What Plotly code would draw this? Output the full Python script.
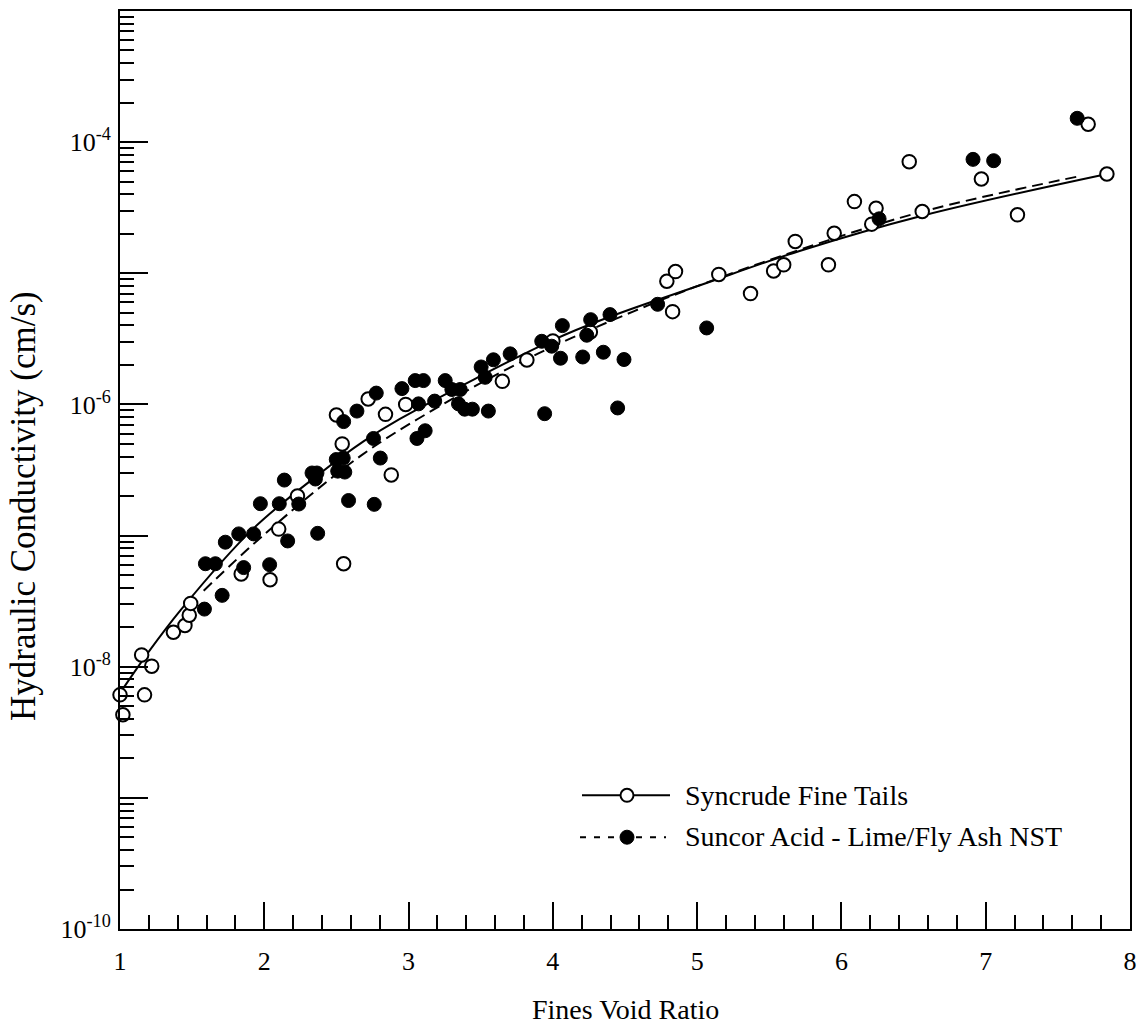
import plotly.graph_objects as go

# ---------------- data ----------------
syn_x = [1.00, 1.17, 1.02, 1.15, 1.22, 1.37, 1.45, 1.48, 1.49, 1.84, 2.04, 2.10, 2.23, 2.55,
         2.54, 2.50, 2.72, 2.84, 2.88, 2.98, 3.65, 3.82, 4.00, 4.26, 4.79, 4.85, 4.83, 5.15,
         5.37, 5.53, 5.60, 5.68, 5.91, 5.95, 6.09, 6.21, 6.24, 6.47, 6.56, 6.97, 7.22, 7.71, 7.84]
syn_k = [6.1e-9, 6.1e-9, 4.3e-9, 1.23e-8, 1.01e-8, 1.83e-8, 2.06e-8, 2.47e-8, 3.04e-8, 5.1e-8,
         4.6e-8, 1.12e-7, 2.0e-7, 6.1e-8, 5.0e-7, 8.3e-7, 1.10e-6, 8.4e-7, 2.9e-7, 1.0e-6,
         1.50e-6, 2.18e-6, 3.05e-6, 3.57e-6, 8.7e-6, 1.03e-5, 5.1e-6, 9.8e-6, 7.0e-6, 1.04e-5,
         1.16e-5, 1.75e-5, 1.16e-5, 2.02e-5, 3.52e-5, 2.37e-5, 3.13e-5, 7.1e-5, 2.96e-5, 5.24e-5,
         2.79e-5, 1.37e-4, 5.72e-5]

sun_x = [1.585, 1.592, 1.661, 1.708, 1.730, 1.823, 1.857, 1.926, 1.973, 2.037, 2.104, 2.139,
         2.162, 2.239, 2.331, 2.365, 2.354, 2.370, 2.499, 2.547, 2.509, 2.558, 2.584, 2.550,
         2.642, 2.762, 2.757, 2.776, 2.804, 2.954, 3.046, 3.103, 3.069, 3.115, 3.058, 3.181,
         3.254, 3.300, 3.358, 3.346, 3.389, 3.442, 3.553, 3.503, 3.531, 3.588, 3.704, 3.923,
         3.992, 4.066, 4.053, 3.943, 4.207, 4.262, 4.235, 4.350, 4.396, 4.493, 4.449, 4.726,
         5.066, 6.261, 6.912, 7.055, 7.634]
sun_k = [2.75e-8, 6.1e-8, 6.1e-8, 3.5e-8, 8.9e-8, 1.03e-7, 5.7e-8, 1.03e-7, 1.75e-7, 6.0e-8,
         1.75e-7, 2.65e-7, 9.1e-8, 1.74e-7, 3.0e-7, 3.0e-7, 2.7e-7, 1.04e-7, 3.8e-7, 3.9e-7,
         3.1e-7, 3.05e-7, 1.85e-7, 7.4e-7, 8.9e-7, 1.73e-7, 5.5e-7, 1.22e-6, 3.9e-7, 1.32e-6,
         1.52e-6, 1.52e-6, 1.01e-6, 6.3e-7, 5.5e-7, 1.06e-6, 1.52e-6, 1.30e-6, 1.30e-6, 1.01e-6,
         9.2e-7, 9.2e-7, 8.9e-7, 1.93e-6, 1.61e-6, 2.19e-6, 2.43e-6, 3.03e-6, 2.78e-6, 3.99e-6,
         2.25e-6, 8.5e-7, 2.30e-6, 4.43e-6, 3.37e-6, 2.50e-6, 4.84e-6, 2.20e-6, 9.4e-7, 5.8e-6,
         3.83e-6, 2.60e-5, 7.39e-5, 7.22e-5, 1.52e-4]

# fitted curves
syn_fit_x = [1.00, 1.19, 1.42, 1.92, 2.39, 2.69, 2.94, 4.00, 4.40, 5.02, 5.71, 6.56, 7.80]
syn_fit_k = [6.3e-9, 1.26e-8, 2.7e-8, 1.12e-7, 3.0e-7, 5.25e-7, 7.76e-7, 3.09e-6, 4.68e-6,
             8.1e-6, 1.48e-5, 2.75e-5, 5.6e-5]
sun_fit_x = [1.58, 2.00, 2.67, 3.27, 3.90, 4.56, 5.02, 5.71, 6.56, 7.65]
sun_fit_k = [3.8e-8, 1.02e-7, 4.07e-7, 1.05e-6, 2.45e-6, 5.13e-6, 8.13e-6, 1.51e-5, 2.95e-5, 5.5e-5]

x_ticks = [1, 2, 3, 4, 5, 6, 7, 8]
y_labeled = [-10, -8, -6, -4]      # decades with a printed label
y_unlabeled = [-9, -7, -5]         # decades with a long tick only

series_names = ["Syncrude Fine Tails", "Suncor Acid - Lime/Fly Ash NST"]
x_title = "Fines Void Ratio"
y_title = "Hydraulic Conductivity (cm/s)"

assert len(syn_x) == len(syn_k) and len(sun_x) == len(sun_k)

FONT = "Liberation Serif"
W, H = 1148, 1029
ML, MR, MT, MB = 120, 18, 9, 100

fig = go.Figure()

# fit curves
fig.add_trace(go.Scatter(x=syn_fit_x, y=syn_fit_k, mode="lines", line_shape="spline",
                         line=dict(color="black", width=2), showlegend=False, hoverinfo="skip"))
fig.add_trace(go.Scatter(x=sun_fit_x, y=sun_fit_k, mode="lines", line_shape="spline",
                         line=dict(color="black", width=2, dash="11px,6px"),
                         showlegend=False, hoverinfo="skip"))
# data points
fig.add_trace(go.Scatter(x=syn_x, y=syn_k, mode="markers", name=series_names[0],
                         marker=dict(symbol="circle", size=13.5, color="white",
                                     line=dict(color="black", width=2)),
                         cliponaxis=False, showlegend=False))
fig.add_trace(go.Scatter(x=sun_x, y=sun_k, mode="markers", name=series_names[1],
                         marker=dict(symbol="circle", size=14, color="black",
                                     line=dict(color="black", width=1)),
                         cliponaxis=False, showlegend=False))
# empty trace that carries the overlay axis used for the unlabeled decade ticks
fig.add_trace(go.Scatter(x=[], y=[], yaxis="y2", showlegend=False, hoverinfo="skip"))

# ---------------- axes ----------------
minor_y = [m * 10.0 ** e for e in range(-10, -3) for m in range(2, 10)]
fig.update_layout(
    xaxis=dict(range=[1, 8], tickmode="array", tickvals=x_ticks,
               ticktext=[str(v) for v in x_ticks],
               ticks="inside", ticklen=27, tickwidth=2, tickcolor="black",
               minor=dict(ticks="inside", ticklen=14, tickwidth=1.5, tickcolor="black",
                          tickmode="linear", tick0=1, dtick=0.2, showgrid=False),
               showline=True, linewidth=2, linecolor="black", mirror=True,
               showgrid=False, zeroline=False, ticklabelstandoff=8,
               tickfont=dict(family=FONT, size=26, color="black")),
    yaxis=dict(type="log", range=[-10, -3.0], tickmode="array",
               tickvals=[10.0 ** e for e in y_labeled],
               ticktext=["10<sup>%d</sup>" % e for e in y_labeled],
               ticks="inside", ticklen=28, tickwidth=2, tickcolor="black",
               minor=dict(ticks="inside", ticklen=14, tickwidth=1.5, tickcolor="black",
                          tickmode="array", tickvals=minor_y, showgrid=False),
               showline=True, linewidth=2, linecolor="black", mirror=True,
               showgrid=False, zeroline=False, ticklabelstandoff=2,
               tickfont=dict(family=FONT, size=26, color="black")),
    yaxis2=dict(type="log", range=[-10, -3.0], overlaying="y", side="left",
                tickmode="array", tickvals=[10.0 ** e for e in y_unlabeled],
                ticks="inside", ticklen=28, tickwidth=2, tickcolor="black",
                showticklabels=False, showline=False, showgrid=False, zeroline=False),
)

pw = W - ML - MR
ph = H - MT - MB

def px_x(p):
    return (p - ML) / pw

def px_y(p):
    return (H - MB - p) / ph

annotations = [
    dict(text=x_title, xref="paper", yref="paper", x=0.5, y=px_y(1010),
         xanchor="center", yanchor="middle", showarrow=False,
         font=dict(family=FONT, size=28, color="black")),
    dict(text=y_title, xref="paper", yref="paper", x=px_x(24), y=px_y(505),
         xanchor="center", yanchor="middle", textangle=-90, showarrow=False,
         font=dict(family=FONT, size=35, color="black")),
    dict(text=series_names[0], xref="paper", yref="paper", x=px_x(683), y=px_y(795),
         xanchor="left", yanchor="middle", showarrow=False,
         font=dict(family=FONT, size=28, color="black")),
    dict(text=series_names[1], xref="paper", yref="paper", x=px_x(683), y=px_y(836),
         xanchor="left", yanchor="middle", showarrow=False,
         font=dict(family=FONT, size=28, color="black")),
]

shapes = [
    dict(type="line", xref="paper", yref="paper", x0=px_x(582), x1=px_x(670),
         y0=px_y(795), y1=px_y(795), line=dict(color="black", width=2)),
    dict(type="circle", xref="paper", yref="paper", xsizemode="pixel", ysizemode="pixel",
         xanchor=px_x(627), yanchor=px_y(795), x0=-6.5, x1=6.5, y0=-6.5, y1=6.5,
         fillcolor="white", line=dict(color="black", width=2)),
    dict(type="line", xref="paper", yref="paper", x0=px_x(580), x1=px_x(666),
         y0=px_y(837), y1=px_y(837), line=dict(color="black", width=2, dash="6px,8px")),
    dict(type="circle", xref="paper", yref="paper", xsizemode="pixel", ysizemode="pixel",
         xanchor=px_x(627), yanchor=px_y(837), x0=-7, x1=7, y0=-7, y1=7,
         fillcolor="black", line=dict(color="black", width=1)),
]

fig.update_layout(width=W, height=H, margin=dict(l=ML, r=MR, t=MT, b=MB),
                  paper_bgcolor="white", plot_bgcolor="white",
                  annotations=annotations, shapes=shapes, showlegend=False,
                  font=dict(family=FONT, color="black"))

fig.write_html("out.html")
